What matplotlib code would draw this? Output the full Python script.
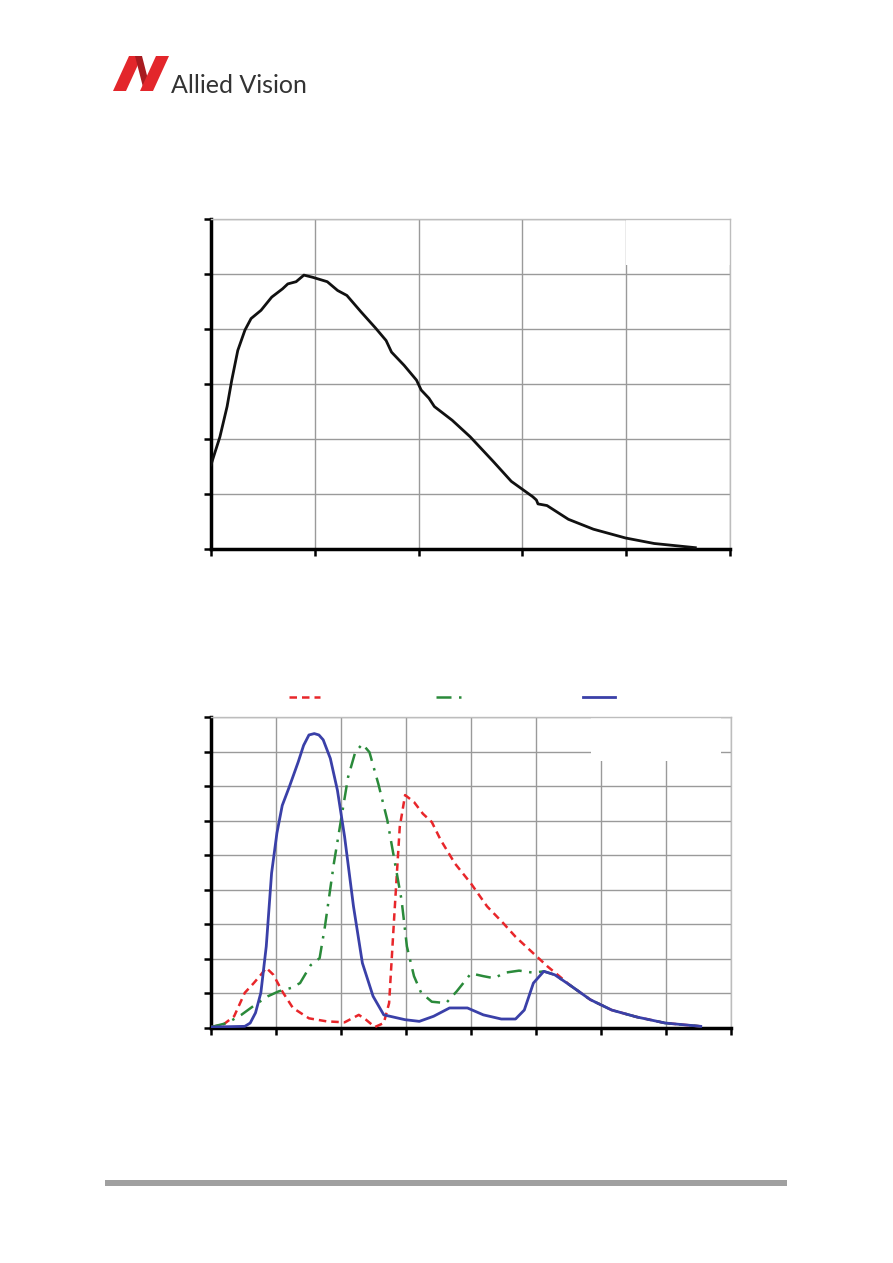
import matplotlib
matplotlib.use('Agg')
import matplotlib.pyplot as plt
from matplotlib.patches import Polygon, Rectangle

# Monochrome response curve (wavelength nm, QE %)
mono_wl = [400, 408.6, 415.5, 420, 425.8, 432.7, 438.6, 448.2, 458.5, 468.9, 474, 482,
           489.5, 498, 505, 512, 522, 530.9, 544.6, 558.4, 568.7, 573.9, 586, 598,
           602.5, 610, 615.2, 632.4, 649.7, 672, 689.3, 710, 713.5, 715, 723.7, 744.3,
           768.4, 799.4, 827, 866.6]
mono_qe = [15.3, 20.4, 25.9, 30.7, 36.1, 39.8, 41.9, 43.4, 45.8, 47.3, 48.2, 48.6,
           49.8, 49.4, 49.0, 48.6, 47.0, 46.1, 43.1, 40.2, 37.9, 35.8, 33.4, 30.7,
           28.9, 27.4, 25.9, 23.4, 20.4, 15.9, 12.3, 9.5, 8.9, 8.2, 7.9, 5.4,
           3.6, 2.0, 1.0, 0.24]

# Colour response curves
tail_wl = [850.7, 883.6, 916.4, 954.8, 998.6, 1053.4]
tail_qe = [6.3, 4.1, 2.6, 1.6, 0.72, 0.24]

blue_wl = [300, 352, 360.3, 368.5, 376.7, 385, 393.2, 401.4, 409.6, 420.5, 434.2, 442.5,
           450.7, 458.9, 466, 472.6, 483.6, 494.5, 505.5, 519.2, 532.9, 549.3, 565.8, 598.6,
           620.5, 642.5, 667, 694.5, 719, 746.6, 768.5, 782, 796, 812, 828.8] + tail_wl
blue_qe = [0.14, 0.24, 0.72, 2.2, 5.1, 11.8, 22.4, 28.2, 32.2, 34.9, 38.5, 40.9,
           42.4, 42.6, 42.4, 41.7, 39.0, 34.4, 27.7, 17.6, 9.4, 4.6, 1.9, 1.2,
           0.96, 1.7, 2.9, 2.9, 1.9, 1.3, 1.3, 2.6, 6.5, 8.2, 7.7] + tail_qe

red_wl = [300, 319, 335.6, 352, 365.8, 376.7, 385, 396, 409.6, 426, 450.7, 478, 505.5,
          527.4, 538.4, 552, 565.8, 574, 582.2, 590.4, 598.6, 612.3, 626, 639.7, 653.4,
          675.3, 700, 724.7, 749.3, 768.5, 796, 817.8, 839.7] + tail_wl
red_qe = [0.14, 0.5, 1.7, 5.1, 6.5, 7.7, 8.7, 7.7, 5.3, 2.9, 1.4, 0.96, 0.82,
          1.9, 1.2, 0.14, 0.72, 3.6, 16.6, 29.1, 33.7, 32.7, 31.0, 29.8, 27.2,
          23.8, 20.9, 17.6, 15.2, 13.2, 10.8, 8.9, 7.2] + tail_qe

green_wl = [300, 324.7, 346.6, 368.5, 387.7, 404.1, 423.3, 437, 453.4, 467.1, 475.3, 489,
            500, 510.9, 521.9, 532.9, 543.8, 557.5, 571.2, 582.2, 593.2, 601.4, 612.3,
            623.3, 639.7, 661.6, 678, 700, 719, 735.6, 752, 774, 796, 812, 828.8] + tail_wl
green_qe = [0.14, 0.72, 1.9, 3.4, 4.6, 5.3, 5.8, 6.5, 9.1, 10.1, 14.7, 23.8,
            30.1, 36.3, 39.9, 41.1, 39.9, 35.3, 30.1, 24.3, 18.5, 11.8, 7.5,
            5.1, 3.8, 3.6, 5.3, 7.9, 7.5, 7.2, 8.0, 8.3, 8.0, 8.2, 7.7] + tail_qe

W, H = 893, 1263
fig = plt.figure(figsize=(W / 100, H / 100), dpi=100)


def style_axes(ax, xticks, yticks):
    ax.set_xticks(xticks)
    ax.set_yticks(yticks)
    ax.set_xticklabels([])
    ax.set_yticklabels([])
    ax.grid(True, color='#9a9a9a', linewidth=1.0)
    ax.set_axisbelow(True)
    for s in ['top', 'right']:
        ax.spines[s].set_color('#bdbdbd')
        ax.spines[s].set_linewidth(1.0)
    for s in ['left', 'bottom']:
        ax.spines[s].set_color('black')
        ax.spines[s].set_linewidth(2.5)
    ax.tick_params(direction='out', length=5, width=1.8, color='black')


# --- top chart ---
ax1 = fig.add_axes([211 / W, 1 - 549 / H, 519 / W, 330 / H])
ax1.plot(mono_wl, mono_qe, color='#111111', linewidth=2.0, zorder=3,
         solid_joinstyle='round')
ax1.set_xlim(400, 900)
ax1.set_ylim(0, 60)
style_axes(ax1, range(400, 901, 100), range(0, 61, 10))
ax1.add_patch(Rectangle((0.8, 0.86), 0.2, 0.14, transform=ax1.transAxes,
                        facecolor='white', edgecolor='none', zorder=2))

# --- bottom chart ---
ax2 = fig.add_axes([211 / W, 1 - 1028 / H, 520 / W, 311 / H])
l_red, = ax2.plot(red_wl, red_qe, color='#e8262a', linewidth=1.8,
                  linestyle=(0, (3, 2)), zorder=3)
l_green, = ax2.plot(green_wl, green_qe, color='#2a8a3a', linewidth=1.8,
                    linestyle=(0, (6, 3, 1, 3)), zorder=3)
l_blue, = ax2.plot(blue_wl, blue_qe, color='#3a40a8', linewidth=2.0, zorder=4,
                   solid_joinstyle='round')
ax2.set_xlim(300, 1100)
ax2.set_ylim(0, 45)
style_axes(ax2, range(300, 1101, 100), range(0, 46, 5))
ax2.add_patch(Rectangle((0.73, 0.86), 0.25, 0.14, transform=ax2.transAxes,
                        facecolor='white', edgecolor='none', zorder=2))
ax2.legend([l_red, l_green, l_blue], ['', '', ''], ncol=3, frameon=False,
           loc='lower left', bbox_to_anchor=(0.125, 1.0), handlelength=2.3,
           columnspacing=8.1, handletextpad=0.2)

# --- logo ---
def px(points):
    return [(x / W, 1 - y / H) for x, y in points]

fig.add_artist(Polygon(px([(113, 91), (126, 91), (142, 56), (129, 56)]),
                       closed=True, facecolor='#e3262b', edgecolor='none',
                       transform=fig.transFigure))
fig.add_artist(Polygon(px([(135, 56), (142, 56), (151, 91), (144, 91)]),
                       closed=True, facecolor='#a81b20', edgecolor='none',
                       transform=fig.transFigure))
fig.add_artist(Polygon(px([(140, 91), (153, 91), (169, 56), (156, 56)]),
                       closed=True, facecolor='#e3262b', edgecolor='none',
                       transform=fig.transFigure))
fig.text(171 / W, 1 - 93 / H, 'Allied Vision', fontsize=18, family='Lato',
         color='#333333', va='baseline', ha='left')

# --- footer bar ---
fig.add_artist(Rectangle((105 / W, 1 - 1186 / H), 682 / W, 6 / H,
                         facecolor='#a0a0a0', edgecolor='none',
                         transform=fig.transFigure))

fig.savefig('out.png', dpi=100)
